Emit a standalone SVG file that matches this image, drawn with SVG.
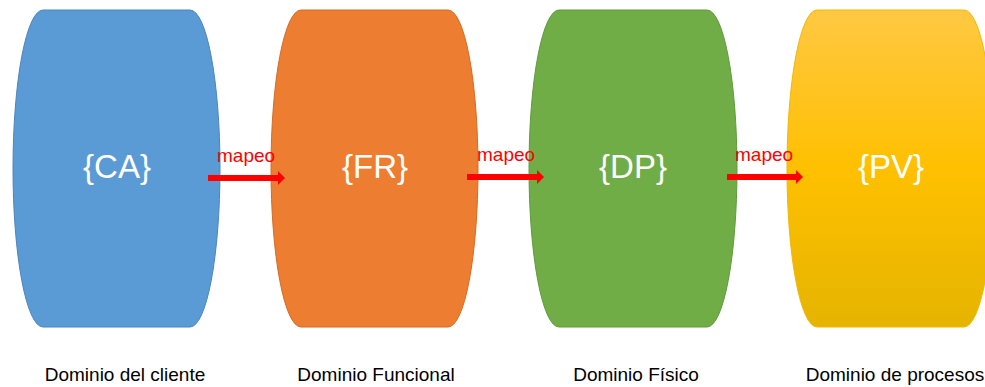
<svg xmlns="http://www.w3.org/2000/svg" width="985" height="387" viewBox="0 0 985 387">
<style>
.big{font-family:"Liberation Sans",Arial,sans-serif;font-size:33px;fill:#ffffff;text-anchor:middle}
.lbl{font-family:"Liberation Sans",Arial,sans-serif;font-size:19px;fill:#000000;text-anchor:middle}
.map{font-family:"Liberation Sans",Arial,sans-serif;font-size:19px;fill:#ff0000}
.conn{stroke:#ff0000;stroke-width:6;fill:none}
</style>
<defs>
<linearGradient id="yg" x1="0" y1="0" x2="0" y2="1">
<stop offset="0" stop-color="#FFC843"/>
<stop offset="0.5" stop-color="#FFC000"/>
<stop offset="1" stop-color="#E5B400"/>
</linearGradient>
<marker id="ah" markerUnits="userSpaceOnUse" markerWidth="8" markerHeight="14" refX="0" refY="7" orient="auto">
<path d="M0,0 L7,7 L0,14 Z" fill="#ff0000"/>
</marker>
</defs>
<g id="node-ca">
<path d="M43,10 H190 A30,158.5 0 0 1 190,327 H43 A30,158.5 0 0 1 43,10 Z" fill="#5B9BD5" stroke="#4A85BC" stroke-width="1"/>
<text class="big" x="117" y="178">{CA}</text>
<text class="lbl" x="125" y="381">Dominio del cliente</text>
</g>
<g id="node-fr">
<path d="M301,10 H448 A30,158.5 0 0 1 448,327 H301 A30,158.5 0 0 1 301,10 Z" fill="#ED7D31" stroke="#D66A22" stroke-width="1"/>
<text class="big" x="375" y="178">{FR}</text>
<text class="lbl" x="376" y="381">Dominio Funcional</text>
</g>
<g id="node-dp">
<path d="M559,10 H707 A30,158.5 0 0 1 707,327 H559 A30,158.5 0 0 1 559,10 Z" fill="#70AD47" stroke="#5F9A3A" stroke-width="1"/>
<text class="big" x="633" y="178">{DP}</text>
<text class="lbl" x="636" y="381">Dominio Físico</text>
</g>
<g id="node-pv">
<path d="M817,10 H964 A30,158.5 0 0 1 964,327 H817 A30,158.5 0 0 1 817,10 Z" fill="url(#yg)" stroke="#F0B800" stroke-width="1"/>
<text class="big" x="891" y="178">{PV}</text>
<text class="lbl" x="895" y="381">Dominio de procesos</text>
</g>
<g id="connectors">
<path class="conn" d="M208,178 H278" marker-end="url(#ah)"/>
<text class="map" x="217" y="162">mapeo</text>
<path class="conn" d="M467,177 H537" marker-end="url(#ah)"/>
<text class="map" x="477" y="161">mapeo</text>
<path class="conn" d="M727,177 H796" marker-end="url(#ah)"/>
<text class="map" x="735" y="161">mapeo</text>
</g>
</svg>
